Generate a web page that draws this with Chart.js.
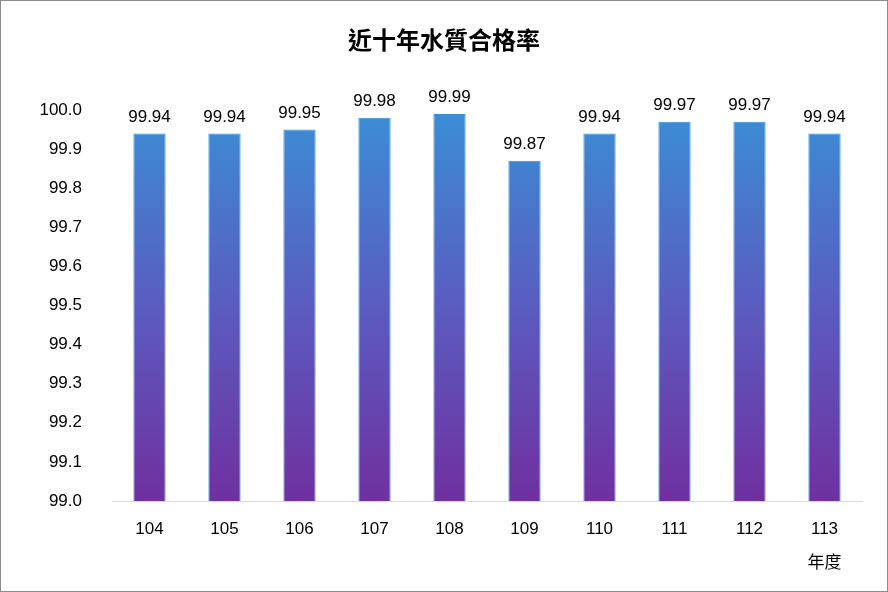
<!DOCTYPE html>
<html>
<head>
<meta charset="utf-8">
<script src="https://cdn.jsdelivr.net/npm/chart.js@4"></script>
<style>
html, body { margin: 0; padding: 0; background: #fff; }
canvas { display: block; }
</style>
</head>
<body>
<canvas id="waterChart" width="888" height="592"></canvas>
<script>
const years = ['104', '105', '106', '107', '108', '109', '110', '111', '112', '113'];
const passRates = [99.94, 99.94, 99.95, 99.98, 99.99, 99.87, 99.94, 99.97, 99.97, 99.94];
const chartTitle = '近十年水質合格率';
const xAxisUnit = '年度';

const font = '"Liberation Sans", Arial, sans-serif';
const cjkFont = '"Noto Sans CJK TC", sans-serif';

const makeGradient = (context) => {
    const {ctx, chartArea} = context.chart;
    if (!chartArea) {
        return '#4a7fd0';
    }
    let g = ctx.createLinearGradient(0, chartArea.bottom, 0, chartArea.top);
    g.addColorStop(0, '#7030a0');
    g.addColorStop(0.5, '#5a5cc0');
    g.addColorStop(1, '#3a8ed6');
    return g;
};

const extras = {
    id: 'extras',
    afterDraw(chart) {
        const ctx = chart.ctx;
        ctx.save();
        // title
        ctx.fillStyle = '#000';
        ctx.font = 'bold 24px ' + cjkFont;
        ctx.textAlign = 'center';
        ctx.textBaseline = 'middle';
        ctx.fillText(chartTitle, chart.width / 2, 40);

        // value labels
        ctx.font = '17px ' + font;
        ctx.textBaseline = 'bottom';
        const meta = chart.getDatasetMeta(0);
        meta.data.forEach((bar, i) => {
            ctx.fillText(passRates[i].toFixed(2), bar.x, bar.y - 8);
        });

        // axis unit
        ctx.font = '17px ' + cjkFont;
        ctx.textBaseline = 'middle';
        const last = meta.data[meta.data.length - 1];
        ctx.fillText(xAxisUnit, last.x, 562);

        // outer border
        ctx.strokeStyle = '#8c8c8c';
        ctx.lineWidth = 1;
        ctx.strokeRect(0.5, 0.5, chart.width - 1, chart.height - 1);
        ctx.restore();
    },
};

(function () {
    const ctx = document.getElementById('waterChart').getContext('2d');
    new Chart(ctx, {
        type: 'bar',
        data: {
            labels: years,
            datasets: [
                {
                    data: passRates,
                    backgroundColor: makeGradient,
                    borderColor: '#3a8ed6',
                    borderWidth: 1,
                    barPercentage: 0.43,
                    categoryPercentage: 1,
                },
            ],
        },
        options: {
            responsive: false,
            animation: false,
            devicePixelRatio: 1,
            layout: {
                padding: {top: 110, right: 26, left: 20, bottom: 0},
            },
            plugins: {
                legend: {display: false},
                tooltip: {enabled: false},
            },
            scales: {
                x: {
                    grid: {display: false, drawTicks: false},
                    border: {color: '#d9d9d9'},
                    ticks: {color: '#000', font: {size: 17, family: font}, padding: 18},
                    afterFit: (scale) => { scale.height = 91; },
                },
                y: {
                    min: 99.0,
                    max: 100.0,
                    grid: {display: false, drawTicks: false},
                    border: {display: false},
                    ticks: {
                        stepSize: 0.1,
                        color: '#000',
                        font: {size: 17, family: font},
                        padding: 30,
                        callback: (v) => v.toFixed(1),
                    },
                    afterFit: (scale) => { scale.width = 92; },
                },
            },
        },
        plugins: [extras],
    });
})();
</script>
</body>
</html>
